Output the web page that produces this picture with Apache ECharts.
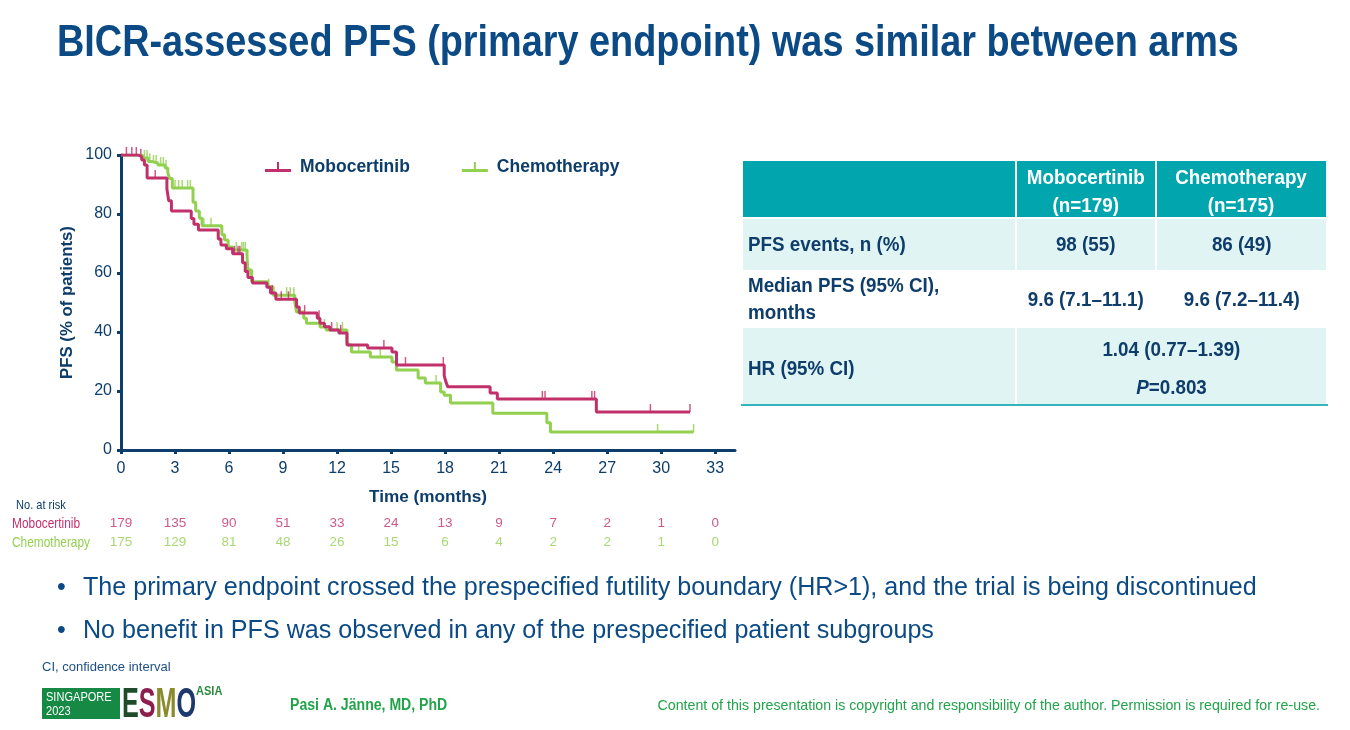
<!DOCTYPE html>
<html>
<head>
<meta charset="utf-8">
<script src="https://cdn.jsdelivr.net/npm/echarts@6/dist/echarts.min.js"></script>
<style>
  html, body { margin:0; padding:0; background:#fff; }
  #wrap { position:relative; width:1350px; height:730px; overflow:hidden; }
  #chart { position:absolute; left:0; top:0; width:1350px; height:730px; }
  table.pfs { position:absolute; left:741px; top:159px; width:587px; border-collapse:collapse;
    font-family:'Liberation Sans',Arial,sans-serif; font-weight:bold; color:#0f3d6b; font-size:20px; }
  table.pfs td { padding:0; border:2px solid #fff; white-space:nowrap; }
  table.pfs tr.h td { background:#00a5ad; color:#fff; text-align:center; height:56px; line-height:28px; }
  table.pfs tr.h td span { position:relative; top:2px; }
  table.pfs tr.r1 td { background:#e1f4f4; height:51px; }
  table.pfs tr.r2 td { background:#fff; height:53px; line-height:27px; }
  table.pfs tr.r3 td { background:#e1f4f4; height:76px; border-bottom:2px solid #35b5bb; }
  table.pfs td.l { padding-left:5px; text-align:left; }
  table.pfs td.c { text-align:center; }
  .sl { display:inline-block; transform:scaleX(0.94); transform-origin:left center; }
  .sc { display:inline-block; transform:scaleX(0.94); transform-origin:center center; }
</style>
</head>
<body>
<div id="wrap">
<div id="chart"></div>
<table class="pfs">
  <tr class="h"><td style="width:272px"></td><td style="width:138px"><span class="sc">Mobocertinib<br>(n=179)</span></td><td><span class="sc">Chemotherapy<br>(n=175)</span></td></tr>
  <tr class="r1"><td class="l"><span class="sl">PFS events, n (%)</span></td><td class="c"><span class="sc">98 (55)</span></td><td class="c"><span class="sc">86 (49)</span></td></tr>
  <tr class="r2"><td class="l"><span class="sl">Median PFS (95% CI),<br>months</span></td><td class="c"><span class="sc">9.6 (7.1–11.1)</span></td><td class="c"><span class="sc">9.6 (7.2–11.4)</span></td></tr>
  <tr class="r3"><td class="l"><span class="sl" style="position:relative; top:2px">HR (95% CI)</span></td><td class="c" colspan="2"><div style="line-height:38px; position:relative; top:2px"><span class="sc">1.04 (0.77–1.39)</span><br><span class="sc"><i>P</i>=0.803</span></div></td></tr>
</table>
</div>
<script>
// ---------- DATA ----------
const moboTimes = [0, 0.95, 1.15, 1.3, 1.45, 2.55, 2.65, 2.8, 3.9, 4.05, 4.3, 5.4, 5.55, 5.85, 6.2, 6.75, 6.9, 7.05, 7.3, 8.1, 8.3, 8.6, 9.75, 9.9, 10.9, 11.05, 11.3, 11.6, 12.1, 12.55, 13.7, 15.05, 15.3, 17.95, 18.05, 18.15, 20.5, 20.9, 26.4, 31.6];
const moboSurv  = [100, 99.4, 98.3, 96.6, 92.2, 88.5, 84.5, 81.0, 78.5, 76.5, 74.6, 71.5, 69.5, 68.2, 66.5, 63.5, 60.5, 58.5, 56.6, 55.2, 53.2, 51.1, 48.5, 46.4, 44.7, 43.0, 41.8, 40.7, 39.7, 35.6, 34.6, 33.2, 28.8, 25.2, 23.0, 21.4, 19.3, 17.3, 12.9, 12.9];
const moboCensor = [0.3, 0.6, 0.85, 1.1, 1.9, 6.3, 6.5, 6.6, 8.4, 8.9, 9.3, 10.2, 11.0, 11.7, 12.2, 14.6, 15.8, 17.9, 23.4, 23.55, 26.15, 26.3, 29.4, 31.6];

const chemoTimes = [0, 1.2, 1.5, 1.7, 2.05, 2.45, 2.6, 2.7, 2.85, 4.0, 4.15, 4.35, 4.5, 5.6, 5.75, 5.95, 6.2, 7.0, 7.05, 7.25, 8.15, 8.45, 9.65, 9.75, 10.15, 10.3, 11.05, 11.4, 12.55, 12.65, 12.8, 13.85, 15.05, 15.3, 16.5, 16.9, 17.75, 17.95, 18.3, 20.65, 23.65, 23.85, 31.8];
const chemoSurv  = [100, 99.0, 97.8, 97.3, 96.6, 95.6, 94.0, 92.0, 88.8, 84.0, 81.0, 78.6, 76.0, 73.0, 71.2, 68.8, 67.8, 65.4, 61.0, 57.0, 55.3, 52.5, 50.2, 46.8, 44.7, 43.0, 41.7, 40.7, 36.6, 35.6, 33.2, 31.5, 29.8, 27.1, 24.4, 22.7, 19.7, 18.6, 15.9, 12.5, 9.2, 6.1, 6.1];
const chemoCensor = [1.3, 1.45, 1.6, 1.8, 1.95, 2.2, 2.35, 2.5, 3.0, 3.2, 3.4, 3.7, 3.85, 4.6, 5.0, 6.4, 6.7, 6.8, 6.9, 8.2, 9.2, 9.4, 9.6, 11.0, 11.3, 12.0, 12.3, 13.2, 14.4, 17.5, 29.8, 31.8];

const riskTimes = [0, 3, 6, 9, 12, 15, 18, 21, 24, 27, 30, 33];
const moboRisk  = [179, 135, 90, 51, 33, 24, 13, 9, 7, 2, 1, 0];
const chemoRisk = [175, 129, 81, 48, 26, 15, 6, 4, 2, 2, 1, 0];

const seriesNames = ['Mobocertinib', 'Chemotherapy'];
const xTicks = [0, 3, 6, 9, 12, 15, 18, 21, 24, 27, 30, 33];
const yTicks = [0, 20, 40, 60, 80, 100];

// ---------- STYLE ----------
const FONT = "'Liberation Sans',Arial,sans-serif";
const NAVY = '#0d3d6b';
const TITLE = '#0b4a85';
const MAG = '#c2306b';
const GRN = '#92d050';
const FOOTGRN = '#22a34a';

function pairs(ts, ss) { return ts.map((t, i) => [t, ss[i]]); }
function survAt(ts, ss, t) { let v = ss[0]; for (let i = 0; i < ts.length; i++) if (ts[i] <= t) v = ss[i]; return v; }
function censorPts(cs, ts, ss) { return cs.map(t => [t, survAt(ts, ss, t)]); }
function txt(x, y, text, size, fill, opts) {
  opts = opts || {};
  return { type: 'text', x: x, y: y, scaleX: opts.sx || 1, scaleY: 1, z: 10,
    style: { text: text, fontFamily: FONT, fontSize: size, fontWeight: opts.bold ? 'bold' : 'normal',
      fontStyle: 'normal', fill: fill, align: opts.align || 'left', verticalAlign: 'middle', rich: opts.rich } };
}

const chart = echarts.init(document.getElementById('chart'), null, { renderer: 'canvas' });
const legendIcon = 'path://M0,7 L26,7 L26,10 L0,10 Z M12,0 L14,0 L14,7 L12,7 Z';

const option = {
  backgroundColor: '#fff',
  animation: false,
  textStyle: { fontFamily: FONT },
  legend: {
    left: 260, top: 153, itemWidth: 26, itemHeight: 10, itemGap: 52,
    data: [
      { name: 'Mobocertinib', icon: legendIcon },
      { name: 'Chemotherapy', icon: legendIcon }
    ],
    textStyle: { fontFamily: FONT, fontWeight: 'bold', fontSize: 17.5, color: NAVY, padding: [0, 0, 0, 4] }
  },
  grid: [
    { left: 121, top: 155, width: 614, height: 295, containLabel: false },
    { left: 121, top: 514, width: 614, height: 38, containLabel: false }
  ],
  xAxis: [
    {
      gridIndex: 0, type: 'value', min: 0, max: 34.1, interval: 3,
      name: 'Time (months)', nameLocation: 'middle', nameGap: 39,
      nameTextStyle: { fontFamily: FONT, fontWeight: 'bold', fontSize: 17.2, color: NAVY },
      axisLine: { show: true, lineStyle: { color: NAVY, width: 3 } },
      axisTick: { show: true, length: 4, lineStyle: { color: NAVY, width: 3 } },
      axisLabel: { fontFamily: FONT, fontSize: 16, color: NAVY, margin: 11, showMaxLabel: false,
        formatter: v => (xTicks.indexOf(v) >= 0 ? String(v) : '') },
      splitLine: { show: false }
    },
    { gridIndex: 1, type: 'value', min: 0, max: 34.1, show: false }
  ],
  yAxis: [
    {
      gridIndex: 0, type: 'value', min: 0, max: 100, interval: 20,
      name: 'PFS (% of patients)', nameLocation: 'middle', nameGap: 45, nameRotate: 90,
      nameTextStyle: { fontFamily: FONT, fontWeight: 'bold', fontSize: 16.8, color: NAVY },
      axisLine: { show: true, lineStyle: { color: NAVY, width: 3 } },
      axisTick: { show: true, length: 4, lineStyle: { color: NAVY, width: 3 } },
      axisLabel: { fontFamily: FONT, fontSize: 16, color: NAVY, margin: 9,
        formatter: v => (yTicks.indexOf(v) >= 0 ? String(v) : '') },
      splitLine: { show: false }
    },
    { gridIndex: 1, type: 'category', data: seriesNames, inverse: true, show: false }
  ],
  series: [
    { name: 'Chemotherapy', type: 'line', step: 'end', xAxisIndex: 0, yAxisIndex: 0,
      data: pairs(chemoTimes, chemoSurv), showSymbol: false, color: GRN,
      lineStyle: { color: GRN, width: 3 }, z: 2 },
    { name: 'Chemotherapy', type: 'scatter', xAxisIndex: 0, yAxisIndex: 0,
      data: censorPts(chemoCensor, chemoTimes, chemoSurv), symbol: 'rect',
      symbolSize: [1.5, 8], symbolOffset: [0, -4], itemStyle: { color: GRN }, z: 2 },
    { name: 'Mobocertinib', type: 'line', step: 'end', xAxisIndex: 0, yAxisIndex: 0,
      data: pairs(moboTimes, moboSurv), showSymbol: false, color: MAG,
      lineStyle: { color: MAG, width: 3 }, z: 3 },
    { name: 'Mobocertinib', type: 'scatter', xAxisIndex: 0, yAxisIndex: 0,
      data: censorPts(moboCensor, moboTimes, moboSurv), symbol: 'rect',
      symbolSize: [1.5, 8], symbolOffset: [0, -4], itemStyle: { color: MAG }, z: 3 },
    { name: 'riskM', type: 'scatter', xAxisIndex: 1, yAxisIndex: 1, symbolSize: 0,
      data: riskTimes.map((t, i) => [t, 'Mobocertinib', moboRisk[i]]),
      label: { show: true, position: 'inside', formatter: p => String(p.value[2]),
        fontFamily: FONT, fontSize: 13.5, color: MAG } },
    { name: 'riskC', type: 'scatter', xAxisIndex: 1, yAxisIndex: 1, symbolSize: 0,
      data: riskTimes.map((t, i) => [t, 'Chemotherapy', chemoRisk[i]]),
      label: { show: true, position: 'inside', formatter: p => String(p.value[2]),
        fontFamily: FONT, fontSize: 13.5, color: GRN } }
  ],
  graphic: [
    txt(57, 44, 'BICR-assessed PFS (primary endpoint) was similar between arms', 44, TITLE, { bold: true, sx: 0.86 }),
    txt(16, 505, 'No. at risk', 13, NAVY, { sx: 0.85 }),
    txt(12, 524, seriesNames[0], 14, MAG, { sx: 0.85 }),
    txt(12, 543, seriesNames[1], 14, GRN, { sx: 0.85 }),
    txt(57, 588, '•', 25, TITLE),
    txt(83, 588, 'The primary endpoint crossed the prespecified futility boundary (HR>1), and the trial is being discontinued', 25.1, TITLE),
    txt(57, 631, '•', 25, TITLE),
    txt(83, 631, 'No benefit in PFS was observed in any of the prespecified patient subgroups', 25.1, TITLE),
    txt(42, 667, 'CI, confidence interval', 13, '#1d4f86'),
    // logo
    { type: 'rect', shape: { x: 42, y: 688, width: 78, height: 31 }, style: { fill: '#168a45' }, z: 9 },
    txt(46, 697, 'SINGAPORE', 13, '#ffffff', { sx: 0.85 }),
    txt(46, 711, '2023', 13, '#ffffff', { sx: 0.85 }),
    txt(122, 705, '{e|E}{s|S}{m|M}{o|O}', 42, '#1f4d2b', { bold: true, sx: 0.6, rich: {
      e: { fontSize: 42, fontWeight: 'bold', fontFamily: FONT, fill: '#1f4d2b' },
      s: { fontSize: 42, fontWeight: 'bold', fontFamily: FONT, fill: '#8c1d4c' },
      m: { fontSize: 42, fontWeight: 'bold', fontFamily: FONT, fill: '#8a8c2c' },
      o: { fontSize: 42, fontWeight: 'bold', fontFamily: FONT, fill: '#1e3a6d' } } }),
    txt(196, 691, 'ASIA', 13, '#2c8a3c', { bold: true, sx: 0.85 }),
    txt(290, 706, 'Pasi A. Jänne, MD, PhD', 16, FOOTGRN, { bold: true, sx: 0.88 }),
    txt(1320, 706, 'Content of this presentation is copyright and responsibility of the author. Permission is required for re-use.', 14.2, FOOTGRN, { align: 'right' })
  ]
};
chart.setOption(option);
</script>
</body>
</html>
